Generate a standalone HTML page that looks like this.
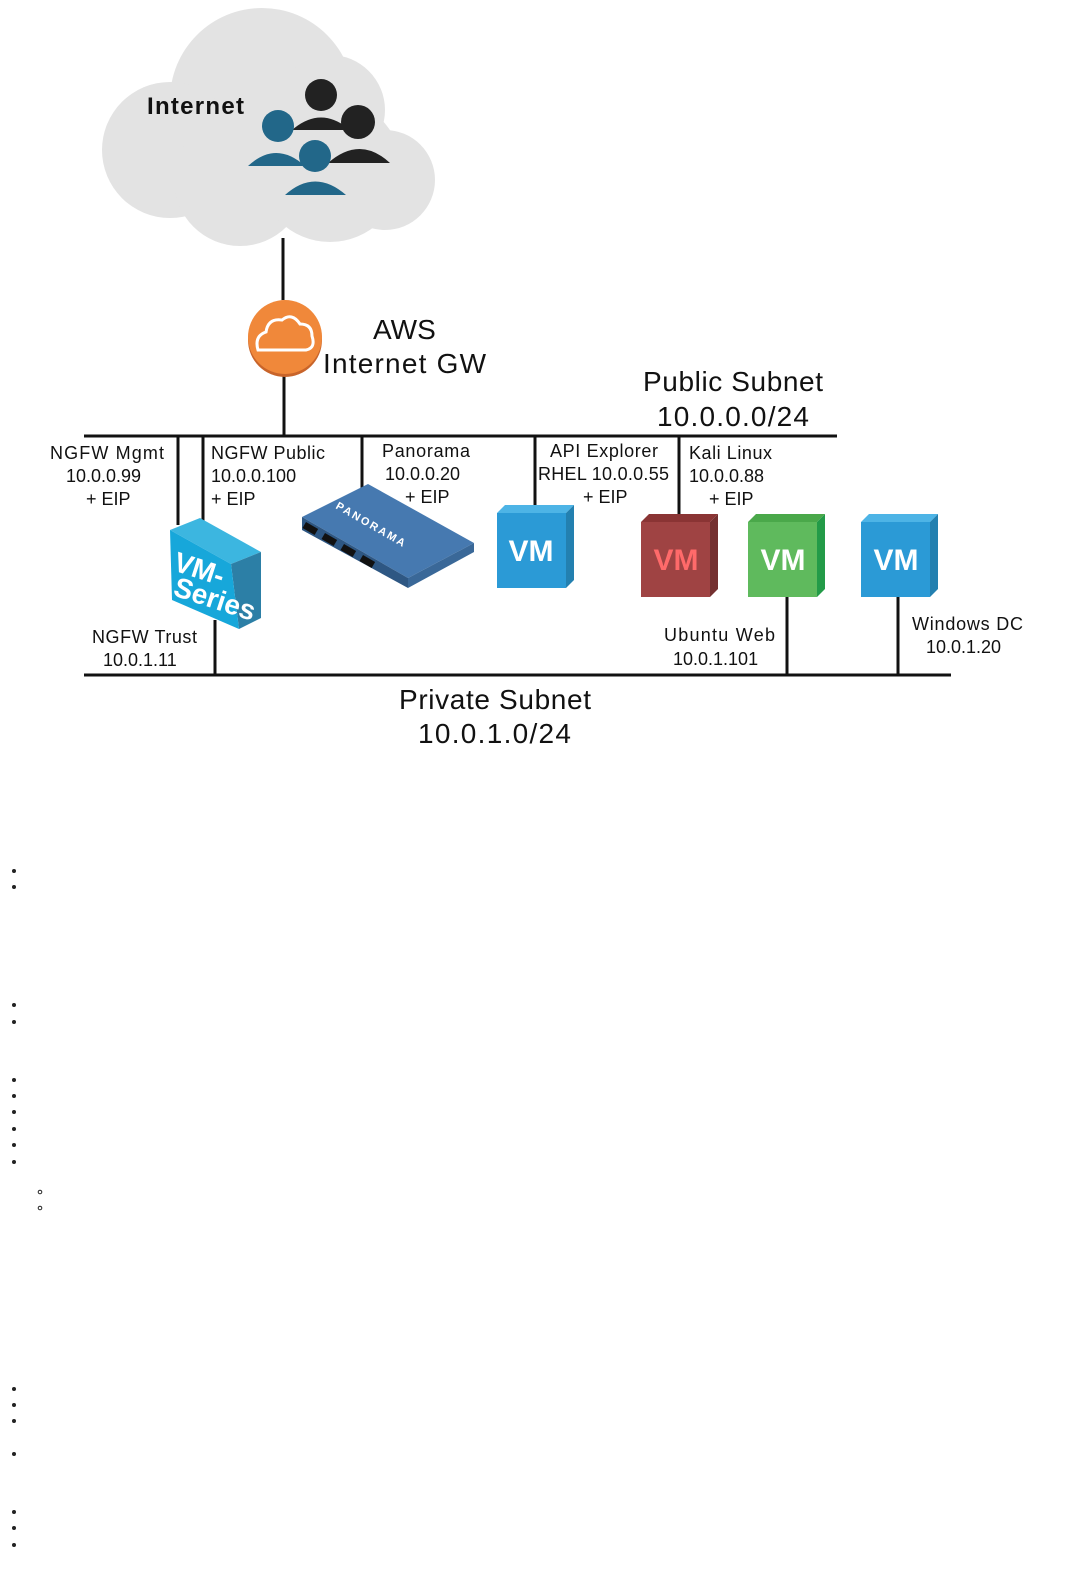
<!DOCTYPE html>
<html><head><meta charset="utf-8"><style>
html,body{margin:0;padding:0;background:#fff;width:1076px;height:1570px;overflow:hidden}
svg text{font-family:"Liberation Sans",sans-serif}
</style></head><body>
<svg width="1076" height="1570" viewBox="0 0 1076 1570" xmlns="http://www.w3.org/2000/svg">
<g fill="#e3e3e3">
<circle cx="262" cy="100" r="92"/>
<circle cx="170" cy="150" r="68"/>
<circle cx="240" cy="180" r="66"/>
<circle cx="330" cy="170" r="72"/>
<circle cx="385" cy="180" r="50"/>
<circle cx="330" cy="110" r="55"/>
</g>
<text x="147" y="114" font-size="24" font-weight="bold" fill="#111" textLength="97">Internet</text>
<g>
<circle cx="321" cy="95" r="16" fill="#222"/>
<path d="M292 130 Q321 105 350 130 Z" fill="#222"/>
<circle cx="278" cy="126" r="16" fill="#226789"/>
<path d="M248 166 Q276 140 305 166 Z" fill="#226789"/>
<circle cx="358" cy="122" r="17" fill="#222"/>
<path d="M328 163 Q360 135 390 163 Z" fill="#222"/>
<circle cx="315" cy="156" r="16" fill="#226789"/>
<path d="M285 195 Q315 168 346 195 Z" fill="#226789"/>
</g>
<g stroke="#111" stroke-width="3" fill="none">
<line x1="283" y1="238" x2="283" y2="300"/>
<line x1="284" y1="376" x2="284" y2="436"/>
<line x1="84" y1="436" x2="837" y2="436"/>
<line x1="84" y1="675" x2="951" y2="675"/>
<line x1="178" y1="436" x2="178" y2="525"/>
<line x1="203" y1="436" x2="203" y2="525"/>
<line x1="362" y1="436" x2="362" y2="490"/>
<line x1="535" y1="436" x2="535" y2="505"/>
<line x1="679" y1="436" x2="679" y2="515"/>
<line x1="215" y1="620" x2="215" y2="675"/>
<line x1="787" y1="597" x2="787" y2="675"/>
<line x1="898" y1="597" x2="898" y2="675"/>
</g>
<circle cx="285" cy="340" r="37" fill="#c8642a"/>
<circle cx="285" cy="337" r="37" fill="#f0883a"/>
<path d="M258 350 Q254 336 266 332 Q268 318 282 320 Q292 312 300 324 Q312 324 312 336 Q316 348 306 350 Z" fill="none" stroke="#fff" stroke-width="3"/>
<text x="373" y="339" font-size="28" fill="#111">AWS</text>
<text x="323" y="373" font-size="28" fill="#111" textLength="163">Internet GW</text>
<text x="643" y="391" font-size="28" fill="#111" textLength="180">Public Subnet</text>
<text x="657" y="426" font-size="28" fill="#111" textLength="152">10.0.0.0/24</text>
<text x="399" y="709" font-size="28" fill="#111" textLength="192">Private Subnet</text>
<text x="418" y="743" font-size="28" fill="#111" textLength="153">10.0.1.0/24</text>
<g font-size="18" fill="#111">
<text x="50" y="459" textLength="114">NGFW Mgmt</text>
<text x="66" y="482">10.0.0.99</text>
<text x="86" y="505">+ EIP</text>
<text x="211" y="459" textLength="114">NGFW Public</text>
<text x="211" y="482">10.0.0.100</text>
<text x="211" y="505">+ EIP</text>
<text x="382" y="457" textLength="88">Panorama</text>
<text x="385" y="480">10.0.0.20</text>
<text x="405" y="503">+ EIP</text>
<text x="550" y="457" textLength="108">API Explorer</text>
<text x="538" y="480" textLength="131">RHEL 10.0.0.55</text>
<text x="583" y="503">+ EIP</text>
<text x="689" y="459" textLength="83">Kali Linux</text>
<text x="689" y="482">10.0.0.88</text>
<text x="709" y="505">+ EIP</text>
<text x="92" y="643" textLength="105">NGFW Trust</text>
<text x="103" y="666">10.0.1.11</text>
<text x="664" y="641" textLength="111">Ubuntu Web</text>
<text x="673" y="665">10.0.1.101</text>
<text x="912" y="630" textLength="111">Windows DC</text>
<text x="926" y="653">10.0.1.20</text>
</g>
<polygon points="170,530 200,518 261,552 231,564" fill="#3cb6e0"/>
<polygon points="231,564 261,552 261,618 239,629" fill="#2c7fa6"/>
<polygon points="170,530 231,564 239,629 172,600" fill="#17a7da"/>
<text x="172" y="570" font-size="28" font-weight="bold" fill="#fff" transform="rotate(18 172 570)">VM-</text>
<text x="172" y="595" font-size="28" font-weight="bold" fill="#fff" transform="rotate(18 172 595)">Series</text>
<polygon points="302,517 368,484 474,543 408,578" fill="#4679b0"/>
<polygon points="302,517 408,578 408,588 302,530" fill="#2e5783"/>
<polygon points="408,578 474,543 474,552 408,588" fill="#3a6898"/>
<g fill="#111"><rect x="306" y="522" width="14" height="7" transform="rotate(30 306 522)"/><rect x="325" y="533" width="14" height="7" transform="rotate(30 325 533)"/><rect x="344" y="544" width="14" height="7" transform="rotate(30 344 544)"/><rect x="363" y="555" width="14" height="7" transform="rotate(30 363 555)"/></g>
<text x="335" y="508" font-size="11" font-weight="bold" fill="#fff" letter-spacing="2" transform="rotate(30 335 508)">PANORAMA</text>
<g font-size="30" font-weight="bold" text-anchor="middle">
<polygon points="497,513 505,505 574,505 566,513" fill="#4db4e6"/><polygon points="566,513 574,505 574,580 566,588" fill="#2380b0"/><rect x="497" y="513" width="69" height="75" fill="#2b9ad6"/><text x="531" y="561" fill="#fff">VM</text>
<polygon points="641,522 649,514 718,514 710,522" fill="#8a3434"/><polygon points="710,522 718,514 718,589 710,597" fill="#743030"/><rect x="641" y="522" width="69" height="75" fill="#9f4343"/><text x="676" y="570" fill="#ff6a6a">VM</text>
<polygon points="748,522 756,514 825,514 817,522" fill="#4aa84a"/><polygon points="817,522 825,514 825,589 817,597" fill="#239b48"/><rect x="748" y="522" width="69" height="75" fill="#5fba5d"/><text x="783" y="570" fill="#fff">VM</text>
<polygon points="861,522 869,514 938,514 930,522" fill="#4db4e6"/><polygon points="930,522 938,514 938,589 930,597" fill="#2380b0"/><rect x="861" y="522" width="69" height="75" fill="#2b9ad6"/><text x="896" y="570" fill="#fff">VM</text>
</g>
<g fill="#222">
<circle cx="14" cy="871" r="2"/><circle cx="14" cy="887" r="2"/>
<circle cx="14" cy="1005" r="2"/><circle cx="14" cy="1022" r="2"/>
<circle cx="14" cy="1080" r="2"/><circle cx="14" cy="1096" r="2"/><circle cx="14" cy="1112" r="2"/><circle cx="14" cy="1129" r="2"/><circle cx="14" cy="1145" r="2"/><circle cx="14" cy="1162" r="2"/>
<circle cx="14" cy="1389" r="2"/><circle cx="14" cy="1405" r="2"/><circle cx="14" cy="1421" r="2"/>
<circle cx="14" cy="1454" r="2"/>
<circle cx="14" cy="1512" r="2"/><circle cx="14" cy="1528" r="2"/><circle cx="14" cy="1545" r="2"/>
</g>
<circle cx="40" cy="1192" r="1.8" fill="none" stroke="#222" stroke-width="1"/>
<circle cx="40" cy="1208" r="1.8" fill="none" stroke="#222" stroke-width="1"/>
</svg>
</body></html>
